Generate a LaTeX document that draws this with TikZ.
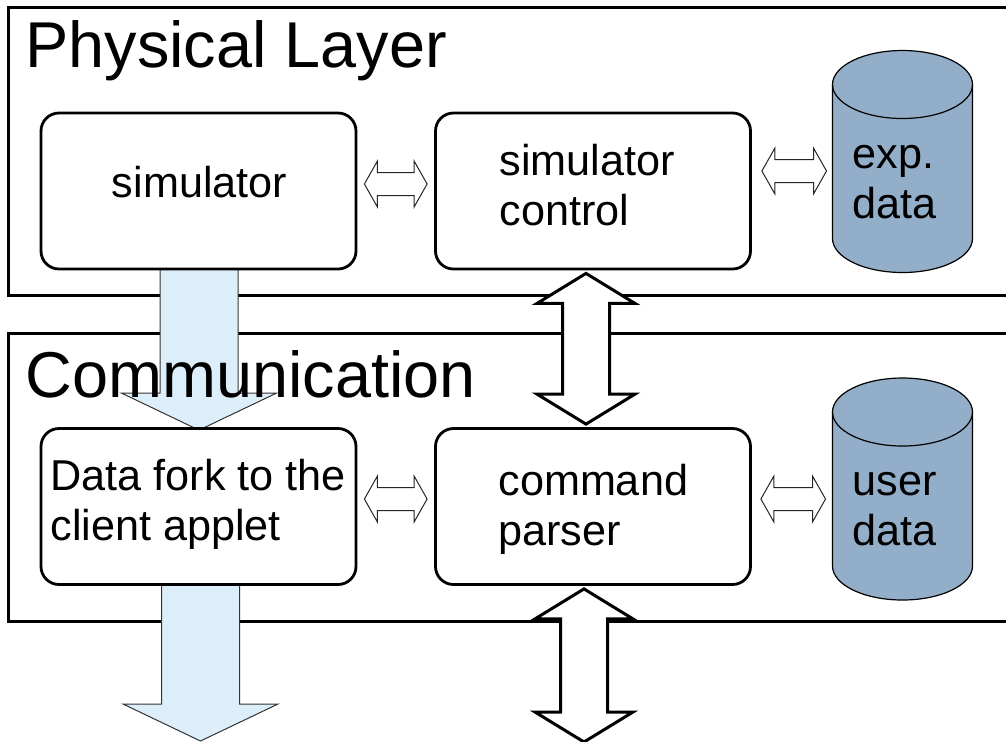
\documentclass[tikz,border=0pt]{standalone}
\usepackage{fontspec}
\setmainfont{Liberation Sans}
\usetikzlibrary{calc,backgrounds}

\definecolor{streamblue}{RGB}{221,238,251}
\definecolor{storeblue}{RGB}{146,174,200}

% horizontal double block arrow, left tip #2, right tip #3 (height from #2)
\newcommand\hdblarrow[3][]{%
  \draw[thinblock,#1] let \p1=(#2), \p2=(#3) in
    (\x1,\y1) -- (\x1+6.5pt,\y1+11.5pt) -- (\x1+6.5pt,\y1+5.75pt)
    -- (\x2-6.5pt,\y1+5.75pt) -- (\x2-6.5pt,\y1+11.5pt) -- (\x2,\y1)
    -- (\x2-6.5pt,\y1-11.5pt) -- (\x2-6.5pt,\y1-5.75pt)
    -- (\x1+6.5pt,\y1-5.75pt) -- (\x1+6.5pt,\y1-11.5pt) -- cycle;}
% vertical double block arrow, top tip #2, bottom tip #3
\newcommand\vdblarrow[3][]{%
  \draw[bigblock,#1] let \p1=(#2), \p2=(#3) in
    (\x1,\y1) -- (\x1+24.5pt,\y1-15pt) -- (\x1+11.75pt,\y1-15pt)
    -- (\x1+11.75pt,\y2+15pt) -- (\x1+24.5pt,\y2+15pt) -- (\x1,\y2)
    -- (\x1-24.5pt,\y2+15pt) -- (\x1-11.75pt,\y2+15pt)
    -- (\x1-11.75pt,\y1-15pt) -- (\x1-24.5pt,\y1-15pt) -- cycle;}
% data stream going down, from #2 to tip #3
\newcommand\flowarrow[3][]{%
  \draw[flowblock,#1] let \p1=(#2), \p2=(#3) in
    (\x1-19.5pt,\y1) -- (\x1-19.5pt,\y2+18.5pt) -- (\x1-38.75pt,\y2+18.5pt)
    -- (\x1,\y2) -- (\x1+38.75pt,\y2+18.5pt) -- (\x1+19.5pt,\y2+18.5pt)
    -- (\x1+19.5pt,\y1) -- cycle;}
% database drum drawn inside a (hidden) node
\newcommand\dbcylinder[1]{%
  \draw[storebody] ($(#1.north west)+(0,-17pt)$) -- ($(#1.south west)+(0,17pt)$)
    arc[start angle=180, end angle=360, x radius=35pt, y radius=17pt]
    -- ($(#1.north east)+(0,-17pt)$)
    arc[start angle=0, end angle=180, x radius=35pt, y radius=17pt] -- cycle;
  \draw[storebody,fill=none] ($(#1.north west)+(0,-17pt)$)
    arc[start angle=180, end angle=360, x radius=35pt, y radius=17pt];}

\begin{document}
\begin{tikzpicture}[x=0.5pt, y=0.5pt, line join=miter,
  layer/.style={draw, line width=1.5pt},
  title/.style={anchor=base west, inner sep=0, font=\fontsize{32.4}{38}\selectfont},
  block/.style={draw, line width=1.4pt, rounded corners=9pt, fill=white,
    minimum width=157.5pt, minimum height=78pt, inner sep=0},
  store/.style={minimum width=70pt, minimum height=111pt, inner sep=0, outer sep=0},
  storebody/.style={draw, line width=0.6pt, fill=storeblue},
  txt/.style={align=left, inner sep=0, font=\fontsize{21.6}{25}\selectfont},
  thinblock/.style={draw=black!85, line width=0.5pt, fill=white},
  bigblock/.style={draw, line width=1.5pt, fill=white},
  flowblock/.style={draw=black!80, line width=0.5pt, fill=streamblue}]
\useasboundingbox (0,0) rectangle (1006,-741);

% layer names
\node[title] (phys) at (25,-67) {Physical Layer};
\node[title] (comm) at (25,-397) {Communication};

% processing blocks
\node[block] (sim) at (198.5,-191) {};
\node[block] (simctl) at (593,-191) {};
\node[block] (fork) at (198.5,-506.5) {};
\node[block] (cmd) at (593,-506.5) {};
\node[txt, anchor=base] (simtxt) at (199.5,-197) {simulator};
\node[txt, anchor=west] (ctltxt) at (499,-185) {simulator\\control};
\node[txt, anchor=west] (forktxt) at (50,-504.4) {Data fork to the\\client applet};
\node[txt, anchor=west] (cmdtxt) at (498,-509.4) {command\\parser};

% data stores
\node[store] (expd) at (902.5,-161.5) {};
\node[store] (userd) at (902.5,-489) {};
\dbcylinder{expd}
\dbcylinder{userd}
\node[txt, anchor=west] (exptxt) at (852,-182) {exp.\\data};
\node[txt, anchor=west] (usertxt) at (852,-509) {user\\data};

% links inside the layers
\hdblarrow{$(sim.east)+(7,7)$}{$(simctl.west)+(-7,0)$}
\hdblarrow{$(simctl.east)+(10,20)$}{$(expd.west)+(-6,0)$}
\hdblarrow{$(fork.east)+(7,7.5)$}{$(cmd.west)+(-7,0)$}
\hdblarrow{$(cmd.east)+(9,7.5)$}{$(userd.west)+(-7,0)$}

\coordinate (forkout) at (200.5,-741);
\coordinate (cmdout) at (584,-742);

\begin{scope}[on background layer]
  \draw[layer] (8.5,-7.5) rectangle (1030,-295);
  \draw[layer] (8.5,-333.5) rectangle (1030,-621.5);
  % streams between the layers
  \flowarrow{$(sim.south)+(0.5,2)$}{$(fork.north)+(0.5,-3)$}
  \flowarrow{$(fork.south)+(2,2)$}{forkout}
  \vdblarrow{$(simctl.south)+(-7,-3)$}{$(cmd.north)+(-7,3)$}
  \vdblarrow{$(cmd.south)+(-9,-3)$}{cmdout}
\end{scope}
\end{tikzpicture}
\end{document}
